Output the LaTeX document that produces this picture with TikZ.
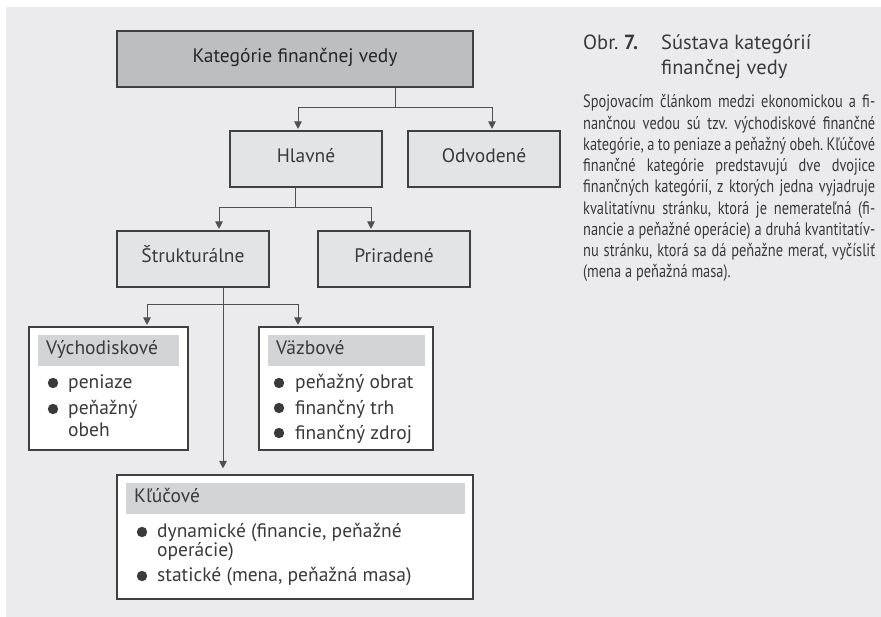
\documentclass[tikz,border=0pt]{standalone}
\usepackage{fontspec}
\setmainfont{PT Sans}
\newfontfamily\narrowfont{PT Sans}[FakeStretch=0.8]
\usetikzlibrary{arrows.meta}
\frenchspacing
\definecolor{pagebg}{HTML}{EBEBED}
\definecolor{topfill}{HTML}{BDBEC0}
\definecolor{midfill}{HTML}{E3E4E6}
\definecolor{bandfill}{HTML}{D3D4D6}
\definecolor{ink}{HTML}{3A3A3A}
\definecolor{edge}{HTML}{404040}
\definecolor{wirecol}{HTML}{505050}
\begin{document}
\begin{tikzpicture}[x=1pt,y=-1pt,
  font=\fontsize{19.5}{23}\selectfont,
  every node/.style={text=ink},
  catbox/.style={draw=edge, line width=1.1pt, fill=midfill, inner sep=0pt,
    minimum width=152pt, minimum height=56pt, text height=0.7em, text depth=0pt},
  listbox/.style={draw=edge, line width=1.1pt, fill=white, inner sep=0pt},
  band/.style={fill=bandfill, inner xsep=8pt, inner ysep=0pt, minimum height=31pt,
    anchor=north west, text height=0.7em, text depth=0pt, align=left},
  wire/.style={draw=wirecol, line width=0.9pt},
  arr/.style={wire, -{Triangle[width=7.5pt,length=7.5pt]}, shorten >=1.5pt},
  item/.style={anchor=base west, inner sep=0pt},
  dot/.style={fill=ink}
]
\path[use as bounding box] (0,0) rectangle (881,617);
\fill[pagebg] (6,7) rectangle (881,617);

% category tree
\node[catbox, fill=topfill, minimum width=356pt, text=black!85] (root) at (295,59) {Kategórie finančnej vedy};
\node[catbox] (main) at (306,159) {Hlavné};
\node[catbox] (derived) at (484,159) {Odvodené};
\node[catbox] (struct) at (193,259) {Štrukturálne};
\node[catbox] (assigned) at (394,259) {Priradené};

% list boxes
\node[listbox, minimum width=159pt, minimum height=123pt] (base) at (108.5,388.5) {};
\node[listbox, minimum width=174pt, minimum height=123pt] (link) at (346,388.5) {};
\node[listbox, minimum width=356pt, minimum height=124pt] (key) at (295,537) {};

\node[band, text width=125pt] (baseHead) at (38,335) {Východiskové};
\node[band, text width=141pt] (linkHead) at (268,335) {Väzbové};
\node[band, text width=323pt] (keyHead) at (126,483) {Kľúčové};

\node[item] (b1) at (68,389) {peniaze};
\node[item] (b2) at (68,414) {\parbox[t]{110pt}{\fontsize{19.5}{23}\selectfont peňažný\\obeh}};
\node[item] (l1) at (295,389) {peňažný obrat};
\node[item] (l2) at (295,414) {finančný trh};
\node[item] (l3) at (295,439) {finančný zdroj};
\node[item] (k1) at (157,537) {\parbox[t]{300pt}{\fontsize{19.5}{17}\selectfont dynamické (financie, peňažné\\operácie)}};
\node[item] (k3) at (157,581) {statické (mena, peňažná masa)};

\foreach \p in {(53,383),(53,409),(279,383),(279,408),(279,433),(142,532),(142,576)}
  \fill[dot] \p circle (5.2pt);

% connectors
\coordinate (j1) at (395,107);
\draw[wire] (root.south -| j1) -- (j1);
\draw[arr] (j1) -| ([xshift=-8pt]main.north);
\draw[arr] (j1) -| ([xshift=8pt]derived.north);

\coordinate (j2) at (295,207);
\draw[wire] (main.south -| j2) -- (j2);
\draw[arr] (j2) -| ([xshift=26pt]struct.north);
\draw[arr] (j2) -| ([xshift=-23pt]assigned.north);

\coordinate (j3) at (223,304);
\draw[arr, shorten >=6pt] ([xshift=30pt]struct.south) -- ([xshift=30pt]struct.south |- key.north);
\draw[arr] (j3) -| ([xshift=38.5pt]base.north);
\draw[arr] (j3) -| ([xshift=-48pt]link.north);

% caption and description
\node[anchor=base west, inner sep=0pt] (capNum) at (583,50)
  {\fontsize{20.5}{25}\selectfont Obr. \textbf{7.}};
\node[anchor=base west, inner sep=0pt] (capText) at (661,50)
  {\parbox[t]{210pt}{\fontsize{20.5}{25}\selectfont Sústava kategórií\\finančnej vedy}};

\node[anchor=base west, inner sep=0pt] (descr) at (583,108)
  {\parbox[t]{292pt}{\narrowfont\fontsize{18}{21.25}\selectfont
   \hbox to 292pt{Spojovacím článkom medzi ekonomickou a fi-}
   \hbox to 292pt{nančnou vedou sú tzv. východiskové finančné}
   \hbox to 292pt{kategórie, a to peniaze a peňažný obeh. Kľúčové}
   \hbox to 292pt{finančné kategórie predstavujú dve dvojice}
   \hbox to 292pt{finančných kategórií, z ktorých jedna vyjadruje}
   \hbox to 292pt{kvalitatívnu stránku, ktorá je nemerateľná (fi-}
   \hbox to 292pt{nancie a peňažné operácie) a druhá kvantitatív-}
   \hbox to 292pt{nu stránku, ktorá sa dá peňažne merať, vyčísliť}
   \hbox{(mena a peňažná masa).}}};
\end{tikzpicture}
\end{document}
